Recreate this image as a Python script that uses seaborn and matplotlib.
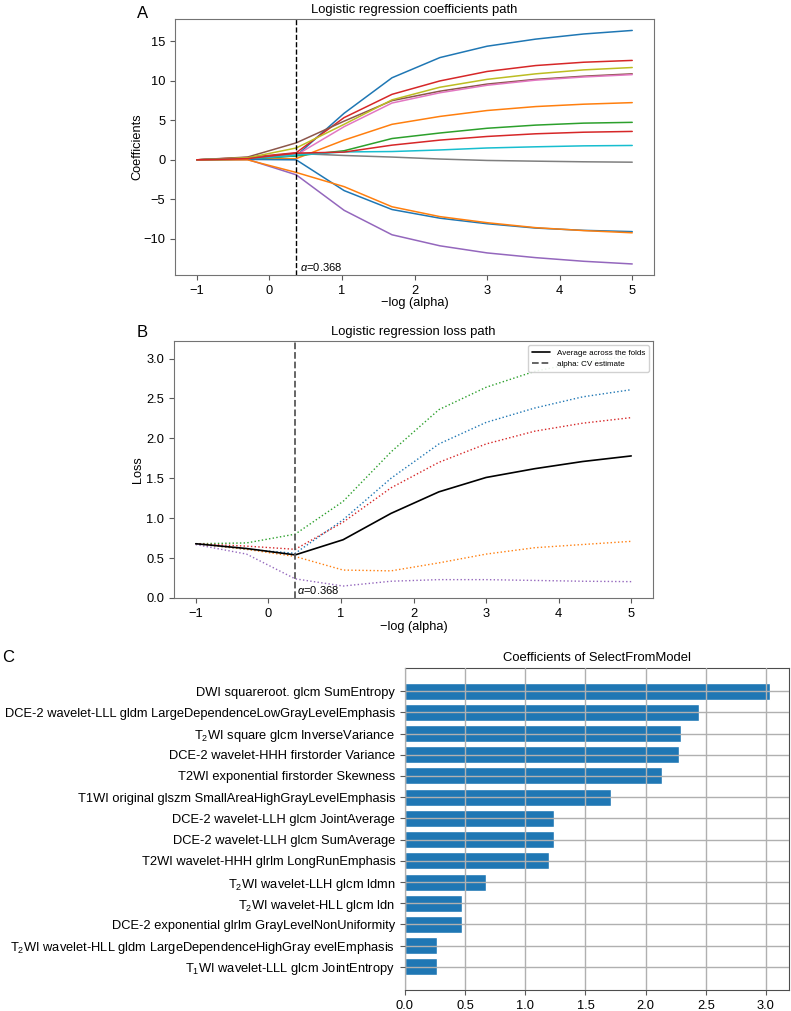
import numpy as np
import pandas as pd
import matplotlib
matplotlib.use("Agg")
import matplotlib.pyplot as plt
import seaborn as sns

# ---------------- data ----------------
neg_log_alpha = [-1.0, -0.3, 0.37, 1.03, 1.69, 2.35, 3.0, 3.67, 4.33, 5.0]
alpha_cv = 0.368

coef_paths = {
    "f01": [0, 0.15, 0.5, 5.9, 10.4, 12.96, 14.4, 15.3, 15.95, 16.4],
    "f02": [0, 0.1, 0.15, 2.5, 4.5, 5.5, 6.25, 6.75, 7.05, 7.25],
    "f03": [0, 0.1, 0.5, 1.15, 2.7, 3.4, 4.0, 4.4, 4.65, 4.75],
    "f04": [0, 0.3, 0.9, 5.35, 8.3, 10.0, 11.2, 11.95, 12.37, 12.6],
    "f05": [0, 0.05, -1.9, -6.4, -9.5, -10.9, -11.8, -12.4, -12.86, -13.2],
    "f06": [0, 0.35, 2.15, 4.9, 7.5, 8.7, 9.6, 10.2, 10.6, 10.9],
    "f07": [0, 0.2, 0.6, 4.2, 7.2, 8.5, 9.45, 10.1, 10.5, 10.8],
    "f08": [0, 0.2, 0.8, 0.55, 0.35, 0.1, -0.08, -0.17, -0.25, -0.3],
    "f09": [0, 0.25, 1.5, 4.5, 7.6, 9.2, 10.2, 10.9, 11.4, 11.7],
    "f10": [0, 0.1, 0.6, 1.0, 1.05, 1.25, 1.5, 1.65, 1.77, 1.82],
    "f11": [0, 0.05, 0.0, -3.9, -6.3, -7.4, -8.1, -8.65, -8.94, -9.1],
    "f12": [0, 0.0, -1.6, -3.4, -5.95, -7.2, -7.97, -8.6, -8.97, -9.25],
    "f14": [0, 0.15, 0.85, 0.98, 1.86, 2.5, 2.96, 3.3, 3.5, 3.6],
}
coef_colors = {
    "f01": "#1f77b4", "f02": "#ff7f0e", "f03": "#2ca02c", "f04": "#d62728",
    "f05": "#9467bd", "f06": "#8c564b", "f07": "#e377c2", "f08": "#7f7f7f",
    "f09": "#bcbd22", "f10": "#17becf", "f11": "#1f77b4", "f12": "#ff7f0e",
    "f14": "#d62728",
}

loss_folds = {
    "fold1": [0.68, 0.61, 0.56, 0.98, 1.50, 1.93, 2.20, 2.38, 2.52, 2.61],
    "fold2": [0.68, 0.61, 0.52, 0.35, 0.34, 0.44, 0.55, 0.63, 0.67, 0.71],
    "fold3": [0.68, 0.69, 0.80, 1.21, 1.83, 2.36, 2.64, 2.84, 2.96, 3.03],
    "fold4": [0.68, 0.65, 0.61, 0.95, 1.38, 1.70, 1.93, 2.09, 2.19, 2.26],
    "fold5": [0.67, 0.55, 0.24, 0.15, 0.21, 0.23, 0.23, 0.22, 0.21, 0.205],
}
fold_colors = ["#1f77b4", "#ff7f0e", "#2ca02c", "#d62728", "#9467bd"]
loss_mean = [0.68, 0.62, 0.54, 0.73, 1.06, 1.33, 1.51, 1.62, 1.71, 1.78]

feature_names = [
    "DWI squareroot. glcm SumEntropy",
    "DCE-2 wavelet-LLL gldm LargeDependenceLowGrayLevelEmphasis",
    "T$\\mathregular{_2}$WI square glcm InverseVariance",
    "DCE-2 wavelet-HHH firstorder Variance",
    "T2WI exponential firstorder Skewness",
    "T1WI original glszm SmallAreaHighGrayLevelEmphasis",
    "DCE-2 wavelet-LLH glcm JointAverage",
    "DCE-2 wavelet-LLH glcm SumAverage",
    "T2WI wavelet-HHH glrlm LongRunEmphasis",
    "T$\\mathregular{_2}$WI wavelet-LLH glcm ldmn",
    "T$\\mathregular{_2}$WI wavelet-HLL glcm ldn",
    "DCE-2 exponential glrlm GrayLevelNonUniformity",
    "T$\\mathregular{_2}$WI wavelet-HLL gldm LargeDependenceHighGray evelEmphasis",
    "T$\\mathregular{_1}$WI wavelet-LLL glcm JointEntropy",
]
feature_coefs = [3.03, 2.44, 2.29, 2.28, 2.14, 1.71, 1.24, 1.24, 1.20, 0.676,
                 0.47, 0.47, 0.266, 0.266]

# ---------------- style ----------------
sns.set_style("ticks")
plt.rcParams["font.family"] = ["Liberation Sans", "DejaVu Sans"]
plt.rcParams["mathtext.fontset"] = "custom"
plt.rcParams["mathtext.rm"] = "Liberation Sans"
plt.rcParams["mathtext.it"] = "Liberation Sans:italic"
plt.rcParams["axes.edgecolor"] = "0.45"
plt.rcParams["text.color"] = "black"
plt.rcParams["axes.labelcolor"] = "black"
plt.rcParams["xtick.color"] = "0.35"
plt.rcParams["ytick.color"] = "0.35"
plt.rcParams["xtick.labelcolor"] = "black"
plt.rcParams["ytick.labelcolor"] = "black"
plt.rcParams["xtick.major.size"] = 3.5
plt.rcParams["ytick.major.size"] = 3.5
plt.rcParams["xtick.major.width"] = 0.8
plt.rcParams["ytick.major.width"] = 0.8

W, H = 791, 1011
fig = plt.figure(figsize=(W / 100, H / 100), dpi=100)

def box(l, t, r, b):
    return [l / W, 1 - b / H, (r - l) / W, (b - t) / H]

axA = fig.add_axes(box(175, 19, 654, 275))
axB = fig.add_axes(box(174, 341, 653, 598))
axC = fig.add_axes(box(405, 668, 789, 990))

tick_fs = 9.3
lab_fs = 9.2
title_fs = 9.4

# ---------- Panel A ----------
dfA = pd.DataFrame(
    [(x, v, k) for k, vals in coef_paths.items() for x, v in zip(neg_log_alpha, vals)],
    columns=["x", "coef", "feature"],
)
sns.lineplot(data=dfA, x="x", y="coef", hue="feature", palette=coef_colors,
             estimator=None, sort=False, legend=False, linewidth=1.1, ax=axA)
axA.axvline(alpha_cv, color="black", linestyle="--", linewidth=1.0)
axA.set_xlim(-1.3, 5.3)
axA.set_ylim(-14.6, 17.85)
axA.set_xticks([-1, 0, 1, 2, 3, 4, 5])
axA.set_yticks([-10, -5, 0, 5, 10, 15])
axA.set_xticklabels(["\u22121", "0", "1", "2", "3", "4", "5"])
axA.set_yticklabels(["\u221210", "\u22125", "0", "5", "10", "15"])
axA.tick_params(labelsize=tick_fs)
axA.set_xlabel("\u2212log (alpha)", fontsize=lab_fs, labelpad=0)
axA.set_ylabel("Coefficients", fontsize=lab_fs, labelpad=0)
axA.set_title("Logistic regression coefficients path", fontsize=title_fs, pad=4)
axA.text(alpha_cv + 0.05, -14.3, "$\\alpha$=0.368", fontsize=8, va="bottom", ha="left")

# ---------- Panel B ----------
for (name, vals), col in zip(loss_folds.items(), fold_colors):
    sns.lineplot(x=neg_log_alpha, y=vals, color=col, linestyle=":", linewidth=1.0,
                 ax=axB, sort=False)
sns.lineplot(x=neg_log_alpha, y=loss_mean, color="black", linewidth=1.2, ax=axB,
             sort=False, label="Average across the folds")
axB.axvline(alpha_cv, color="0.35", linestyle="--", linewidth=1.3,
            label="alpha: CV estimate")
axB.set_xlim(-1.3, 5.3)
axB.set_ylim(0, 3.22)
axB.set_xticks([-1, 0, 1, 2, 3, 4, 5])
axB.set_xticklabels(["\u22121", "0", "1", "2", "3", "4", "5"])
axB.set_yticks([0, 0.5, 1.0, 1.5, 2.0, 2.5, 3.0])
axB.set_yticklabels(["0.0", "0.5", "1.0", "1.5", "2.0", "2.5", "3.0"])
axB.tick_params(labelsize=tick_fs)
axB.set_xlabel("\u2212log (alpha)", fontsize=lab_fs, labelpad=1)
axB.set_ylabel("Loss", fontsize=lab_fs, labelpad=2)
axB.set_title("Logistic regression loss path", fontsize=title_fs, pad=4)
axB.legend(loc="upper right", fontsize=5.8, handlelength=2.2, framealpha=0.9,
           borderpad=0.5, labelspacing=0.4)
axB.text(alpha_cv + 0.02, 0.02, "$\\alpha$=0.368", fontsize=8, va="bottom", ha="left")

# ---------- Panel C ----------
dfC = pd.DataFrame({"feature": feature_names, "coef": feature_coefs})
sns.barplot(data=dfC, y="feature", x="coef", orient="h", color="#1f77b4",
            saturation=1, width=0.8, ax=axC)
n = len(feature_names)
pad = 0.05 * (n - 1 + 0.8)
axC.set_ylim(n - 1 + 0.4 + pad, -0.4 - pad)
axC.set_xlim(0, 1.05 * max(feature_coefs) + 0.01)
axC.set_xticks([0, 0.5, 1.0, 1.5, 2.0, 2.5, 3.0])
axC.set_xticklabels(["0.0", "0.5", "1.0", "1.5", "2.0", "2.5", "3.0"])
axC.grid(True, color="#b0b0b0", linewidth=1.0)
axC.set_axisbelow(False)
axC.set_xlabel("")
axC.set_ylabel("")
axC.tick_params(labelsize=tick_fs)
axC.set_title("Coefficients of SelectFromModel", fontsize=title_fs, pad=5)
for s in axC.spines.values():
    s.set_color("0.3")

# panel letters
fig.text(137 / W, 1 - 13 / H, "A", fontsize=12, va="center", ha="left")
fig.text(137 / W, 1 - 333 / H, "B", fontsize=12, va="center", ha="left")
fig.text(2 / W, 1 - 657 / H, "C", fontsize=12, va="center", ha="left")

fig.savefig("out.png", dpi=100)
